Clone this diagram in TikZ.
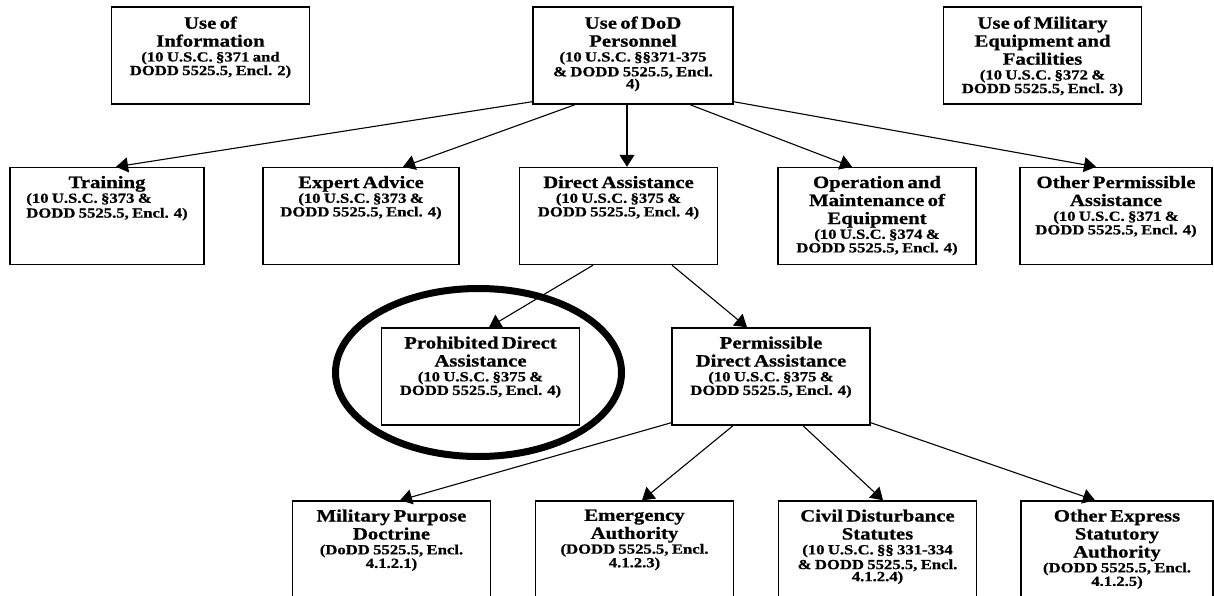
\documentclass[tikz,border=0pt]{standalone}
\usepackage{fontspec}
\newfontfamily\chartfont{Liberation Serif}[FakeStretch=1.2, FakeBold=0.8]
\usetikzlibrary{arrows.meta}
\newcommand\boxtitle{\fontsize{17.3}{18}\selectfont}
\newcommand\boxcite{\fontsize{13.9}{14.8}\selectfont}
\tikzset{
  box/.style={rectangle, draw=black, line width=1.4pt, minimum width=198pt, minimum height=97pt, inner sep=0pt},
  boxtext/.style={anchor=north, align=center, text width=215pt, inner sep=0pt, font=\chartfont\bfseries},
  arr/.style={line width=1.1pt, -{Triangle[length=12pt,width=15pt]}},
  ring/.style={line width=7pt}
}
\begin{document}
\begin{tikzpicture}[x=1pt, y=-1pt]
	\useasboundingbox (0,0) rectangle (1214,596);
	% top row
	\node[box] (info) at (210.5,55.5) {};
	\node[box, minimum width=200pt] (dod) at (633,55.5) {};
	\node[box] (milequip) at (1042.5,55.5) {};
	% second row
	\node[box, minimum width=194pt] (train) at (107,216) {};
	\node[box, minimum width=196pt] (expert) at (361,216) {};
	\node[box] (direct) at (618.5,216) {};
	\node[box] (operate) at (877,216) {};
	\node[box, minimum width=192pt] (otherperm) at (1116,216) {};
	% third row
	\node[box] (prohib) at (480.5,376.5) {};
	\node[box] (permiss) at (771,376.5) {};
	% bottom row
	\node[box, minimum height=100pt] (milpurp) at (391.5,551) {};
	\node[box, minimum height=100pt] (emerg) at (634.5,551) {};
	\node[box, minimum height=100pt] (civil) at (877.5,551) {};
	\node[box, minimum height=100pt, minimum width=192pt] (otherexp) at (1117,551) {};
	% texts
	\node[boxtext] at ([yshift=-10pt]info.north) {\boxtitle Use of\\Information\par\boxcite (10 U.S.C. §371 and\\DODD 5525.5, Encl. 2)};
	\node[boxtext] at ([yshift=-10pt]dod.north) {\boxtitle Use of DoD\\Personnel\par\boxcite (10 U.S.C. §§371-375\\\& DODD 5525.5, Encl.\\4)};
	\node[boxtext] at ([yshift=-10pt]milequip.north) {\boxtitle Use of Military\\Equipment and\\Facilities\par\boxcite (10 U.S.C. §372 \&\\DODD 5525.5, Encl. 3)};
	\node[boxtext] at ([yshift=-9pt]train.north) {\boxtitle Training\par{\boxcite\begin{tabular}[t]{@{}l@{}}(10 U.S.C. §373 \&\\DODD 5525.5, Encl. 4)\end{tabular}\par}};
	\node[boxtext] at ([yshift=-9pt]expert.north) {\boxtitle Expert Advice\par\boxcite (10 U.S.C. §373 \&\\DODD 5525.5, Encl. 4)};
	\node[boxtext] at ([yshift=-9pt]direct.north) {\boxtitle Direct Assistance\par\boxcite (10 U.S.C. §375 \&\\DODD 5525.5, Encl. 4)};
	\node[boxtext] at ([yshift=-9pt]operate.north) {\boxtitle Operation and\\Maintenance of\\Equipment\par\boxcite (10 U.S.C. §374 \&\\DODD 5525.5, Encl. 4)};
	\node[boxtext] at ([yshift=-9pt]otherperm.north) {\boxtitle Other Permissible\\Assistance\par\boxcite (10 U.S.C. §371 \&\\DODD 5525.5, Encl. 4)};
	\node[boxtext] at ([yshift=-9pt]prohib.north) {\boxtitle Prohibited Direct\\Assistance\par\boxcite (10 U.S.C. §375 \&\\DODD 5525.5, Encl. 4)};
	\node[boxtext] at ([yshift=-9pt]permiss.north) {\boxtitle Permissible\\Direct Assistance\par\boxcite (10 U.S.C. §375 \&\\DODD 5525.5, Encl. 4)};
	\node[boxtext] at ([yshift=-9pt]milpurp.north) {\boxtitle Military Purpose\\Doctrine\par\boxcite (DoDD 5525.5, Encl.\\4.1.2.1)};
	\node[boxtext] at ([yshift=-9pt]emerg.north) {\boxtitle Emergency\\Authority\par\boxcite (DODD 5525.5, Encl.\\4.1.2.3)};
	\node[boxtext] at ([yshift=-9pt]civil.north) {\boxtitle Civil Disturbance\\Statutes\par\boxcite (10 U.S.C. §§ 331-334\\\& DODD 5525.5, Encl.\\4.1.2.4)};
	\node[boxtext] at ([yshift=-9pt]otherexp.north) {\boxtitle Other Express\\Statutory\\Authority\par\boxcite (DODD 5525.5, Encl.\\4.1.2.5)};
	% connectors from DoD personnel
	\draw[arr] ([yshift=3pt]dod.south west) -- ([xshift=9pt]train.north);
	\draw[arr] ([xshift=-58pt]dod.south) -- ([xshift=42pt]expert.north);
	\draw[arr] ([xshift=-6pt]dod.south) -- ([xshift=-6pt]dod.south |- direct.north);
	\draw[arr] ([xshift=57pt]dod.south) -- ([xshift=-25pt]operate.north);
	\draw[arr] ([yshift=3pt]dod.south east) -- ([xshift=-20pt]otherperm.north);
	% connectors from direct assistance
	\draw[arr] ([xshift=-25.5pt]direct.south) -- ([xshift=8.5pt]prohib.north);
	\draw[arr] ([xshift=53.5pt]direct.south) -- ([xshift=-24pt]permiss.north);
	% connectors from permissible direct assistance
	\draw[arr] ([yshift=3pt]permiss.south west) -- ([xshift=8.5pt]milpurp.north);
	\draw[arr] ([xshift=-38pt]permiss.south) -- ([xshift=7.5pt]emerg.north);
	\draw[arr] ([xshift=32pt]permiss.south) -- ([xshift=5.5pt]civil.north);
	\draw[arr] ([yshift=3pt]permiss.south east) -- ([xshift=-22pt]otherexp.north);
	% ring round the prohibited box
	\draw[ring] ([xshift=-2pt,yshift=4pt]prohib.center) ellipse [x radius=143pt, y radius=84pt];
\end{tikzpicture}
\end{document}
